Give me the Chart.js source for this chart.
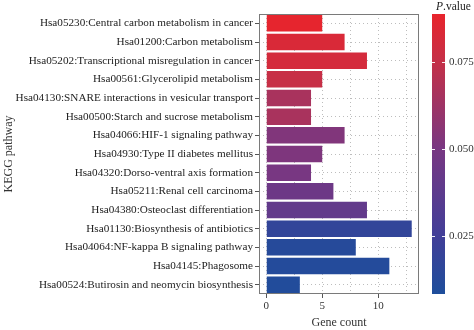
<!DOCTYPE html>
<html><head><meta charset="utf-8">
<script src="https://cdn.jsdelivr.net/npm/chart.js@4/dist/chart.umd.min.js"></script>
<style>html,body{margin:0;padding:0;background:#fff}#wrap{width:474px;height:330px;position:relative}</style>
</head><body><div id="wrap"><canvas id="c" width="474" height="330"></canvas></div>
<script>
const pathways = [
  "Hsa05230:Central carbon metabolism in cancer",
  "Hsa01200:Carbon metabolism",
  "Hsa05202:Transcriptional misregulation in cancer",
  "Hsa00561:Glycerolipid metabolism",
  "Hsa04130:SNARE interactions in vesicular transport",
  "Hsa00500:Starch and sucrose metabolism",
  "Hsa04066:HIF-1 signaling pathway",
  "Hsa04930:Type II diabetes mellitus",
  "Hsa04320:Dorso-ventral axis formation",
  "Hsa05211:Renal cell carcinoma",
  "Hsa04380:Osteoclast differentiation",
  "Hsa01130:Biosynthesis of antibiotics",
  "Hsa04064:NF-kappa B signaling pathway",
  "Hsa04145:Phagosome",
  "Hsa00524:Butirosin and neomycin biosynthesis"
];
const geneCount = [5, 7, 9, 5, 4, 4, 7, 5, 4, 6, 9, 13, 8, 11, 3];
const pValue = [0.088, 0.083, 0.081, 0.076, 0.066, 0.066, 0.053, 0.052, 0.050, 0.045, 0.040, 0.018, 0.012, 0.011, 0.010];
const xTicks = [0, 5, 10];
const pTicks = [0.025, 0.050, 0.075];
const pRange = [0.0083, 0.0888];

const colorStops = [
  [0.0083, [30, 78, 155]],
  [0.025, [65, 62, 152]],
  [0.050, [120, 55, 130]],
  [0.075, [196, 48, 72]],
  [0.0888, [232, 36, 44]]
];
function pColor(p) {
  for (let i = 0; i < colorStops.length - 1; i++) {
    const [a, ca] = colorStops[i], [b, cb] = colorStops[i + 1];
    if (p <= b || i === colorStops.length - 2) {
      let t = Math.max(0, Math.min(1, (p - a) / (b - a)));
      const c = ca.map((v, k) => Math.round(v + (cb[k] - v) * t));
      return `rgb(${c[0]},${c[1]},${c[2]})`;
    }
  }
}

const SERIF = "'Liberation Serif', 'DejaVu Serif', serif";

const decor = {
  id: 'decor',
  afterDraw(chart) {
    const {ctx, chartArea: a} = chart;
    const pv = chart.scales.pv;
    ctx.save();
    ctx.strokeStyle = '#7a7a7a';
    ctx.lineWidth = 1;
    ctx.strokeRect(a.left + 0.5, a.top + 0.5, a.right - a.left - 1, a.bottom - a.top - 1);
    const x0 = 432, w = 13;
    const yTop = pv.getPixelForValue(pRange[1]);
    const yBot = pv.getPixelForValue(pRange[0]);
    const g = ctx.createLinearGradient(0, yBot, 0, yTop);
    colorStops.forEach(([p, c]) => {
      const t = (p - pRange[0]) / (pRange[1] - pRange[0]);
      g.addColorStop(Math.max(0, Math.min(1, t)), `rgb(${c[0]},${c[1]},${c[2]})`);
    });
    ctx.fillStyle = g;
    ctx.fillRect(x0, yTop, w, yBot - yTop);
    ctx.strokeStyle = 'rgba(255,255,255,0.9)';
    ctx.lineWidth = 1;
    pTicks.forEach(p => {
      const y = Math.round(pv.getPixelForValue(p)) + 0.5;
      ctx.beginPath(); ctx.moveTo(x0, y); ctx.lineTo(x0 + 3, y); ctx.stroke();
      ctx.beginPath(); ctx.moveTo(x0 + w - 3, y); ctx.lineTo(x0 + w, y); ctx.stroke();
    });
    ctx.fillStyle = '#222';
    ctx.textBaseline = 'middle';
    ctx.textAlign = 'left';
    ctx.font = `italic 11.5px ${SERIF}`;
    const px = 436;
    ctx.fillText('P', px, 7);
    const pw = ctx.measureText('P').width;
    ctx.font = `11.5px ${SERIF}`;
    ctx.fillText('.value', px + pw, 7);
    ctx.restore();
  }
};

new Chart(document.getElementById('c'), {
  type: 'bar',
  data: {
    labels: pathways,
    datasets: [{
      data: geneCount,
      backgroundColor: pValue.map(pColor),
      borderWidth: 0,
      categoryPercentage: 1,
      barPercentage: 0.88,
      xAxisID: 'x',
      yAxisID: 'y'
    }]
  },
  options: {
    indexAxis: 'y',
    responsive: false,
    animation: false,
    devicePixelRatio: 1,
    layout: {padding: {top: 14, left: 2, right: 0, bottom: 0}},
    plugins: {legend: {display: false}, tooltip: {enabled: false}},
    scales: {
      x: {
        type: 'linear',
        position: 'bottom',
        min: -0.65, max: 13.65,
        afterBuildTicks(s) { s.ticks = [0, 2.5, 5, 7.5, 10, 12.5].map(v => ({value: v})); },
        afterFit(s) { s.height = 36; },
        ticks: {
          autoSkip: false, maxRotation: 0, padding: 2,
          color: '#333', font: {family: SERIF, size: 11},
          callback: v => xTicks.includes(v) ? String(v) : ''
        },
        grid: {
          color: '#bdbdbd', lineWidth: 1,
          drawTicks: true, tickLength: 4,
          tickColor: c => (c.tick && xTicks.includes(c.tick.value)) ? '#555' : 'rgba(0,0,0,0)',
          tickBorderDash: []
        },
        border: {display: false, dash: [1, 3]},
        title: {display: true, text: 'Gene count', color: '#333', font: {family: SERIF, size: 12}, padding: {top: 0, bottom: 0}}
      },
      y: {
        type: 'category',
        position: 'left',
        afterFit(s) { s.width = 257; },
        ticks: {autoSkip: false, color: '#222', font: {family: SERIF, size: 11.2}, padding: 2},
        grid: {
          offset: false, color: '#bdbdbd', lineWidth: 1,
          drawTicks: true, tickLength: 4, tickColor: '#555', tickBorderDash: []
        },
        border: {display: false, dash: [1, 3]},
        title: {display: true, text: 'KEGG pathway', color: '#333', font: {family: SERIF, size: 12}, padding: {top: 0, bottom: 0}}
      },
      pv: {
        type: 'linear',
        position: 'right',
        offset: false,
        min: pRange[0], max: pRange[1],
        afterBuildTicks(s) { s.ticks = pTicks.map(v => ({value: v})); },
        afterFit(s) { s.width = 55; s.paddingTop = 0; s.paddingBottom = 0; },
        ticks: {
          padding: 30, color: '#333', font: {family: SERIF, size: 11},
          callback: v => v.toFixed(3)
        },
        grid: {display: false, drawOnChartArea: false, drawTicks: false, tickLength: 0, offset: false},
        border: {display: false}
      }
    }
  },
  plugins: [decor]
});
</script></body></html>
